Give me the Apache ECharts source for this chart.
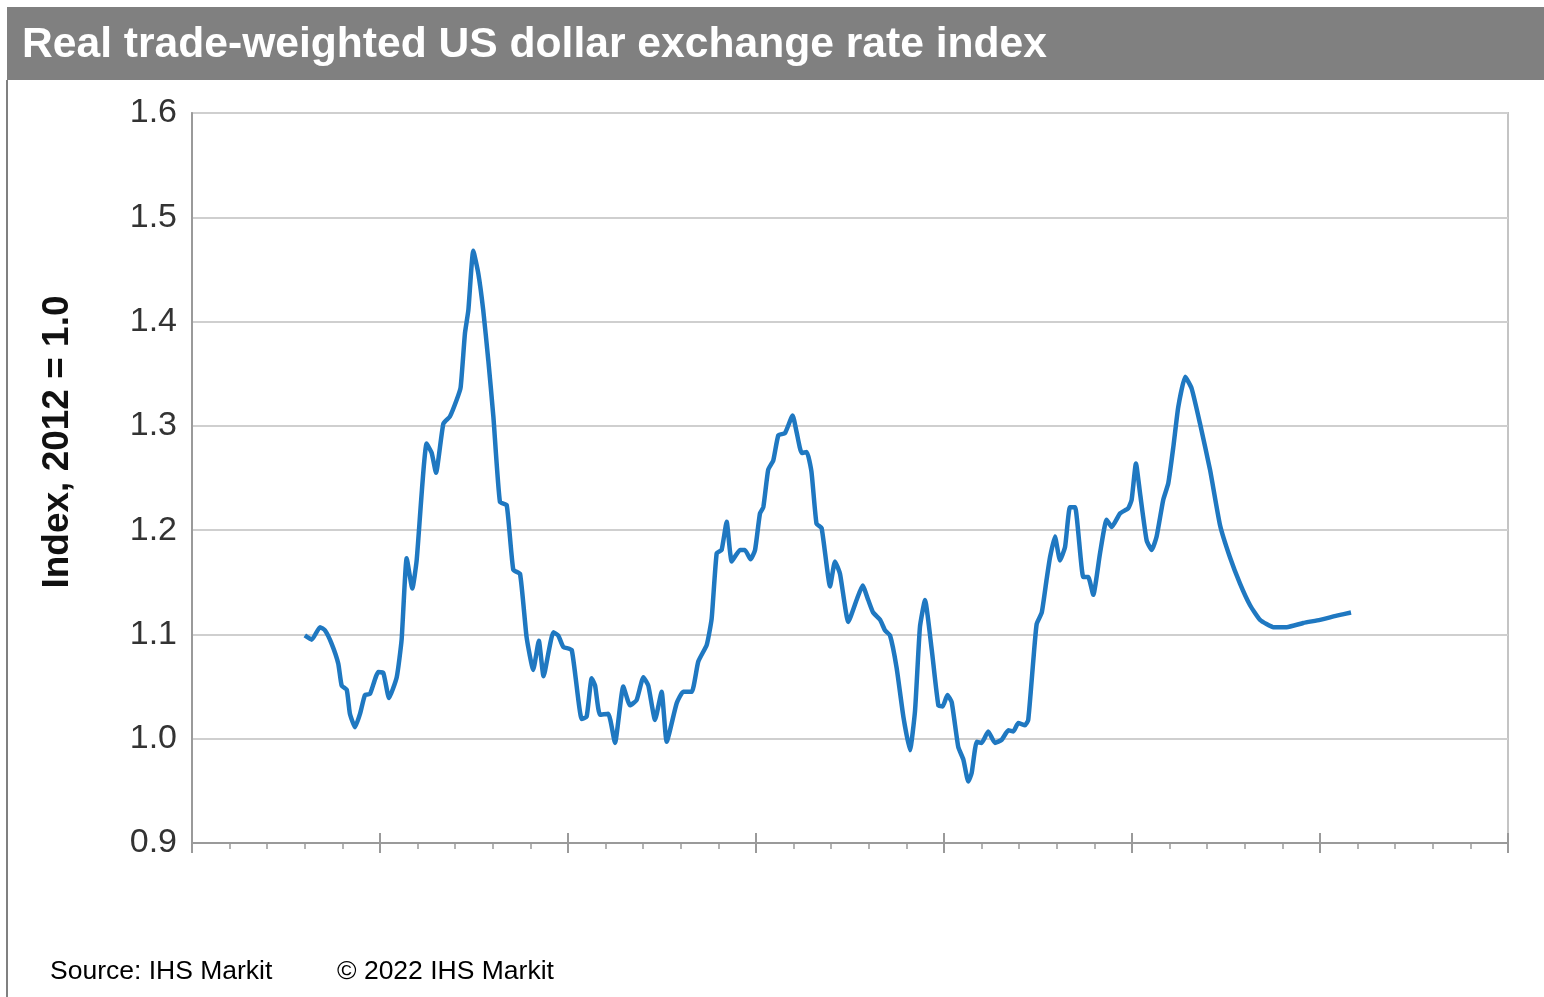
<!DOCTYPE html>
<html>
<head>
<meta charset="utf-8">
<title>Real trade-weighted US dollar exchange rate index</title>
<script src="https://cdn.jsdelivr.net/npm/echarts@6/dist/echarts.min.js"></script>
<style>
  html, body { margin: 0; padding: 0; background: #ffffff; }
  #chart { width: 1544px; height: 997px; }
</style>
</head>
<body>
<div id="chart"></div>
<script>
// Time positions (decimal years) of the index series
const years = [
  1976.0, 1976.37, 1976.81, 1977.07, 1977.43, 1977.78, 1977.96, 1978.23, 1978.4, 1978.67,
  1978.94, 1979.2, 1979.47, 1979.91, 1980.18, 1980.48, 1980.89, 1981.15, 1981.42, 1981.72,
  1981.95, 1982.48, 1982.75, 1982.98, 1983.37, 1983.72, 1984.08, 1984.29, 1984.52, 1984.7,
  1984.96, 1985.23, 1985.49, 1985.76, 1986.03, 1986.38, 1986.74, 1987.09, 1987.45, 1987.8,
  1988.15, 1988.45, 1988.7, 1989.22, 1989.48, 1989.75, 1990.2, 1990.73, 1990.99, 1991.26,
  1991.44, 1991.7, 1992.14, 1992.5, 1992.94, 1993.3, 1993.65, 1994.01, 1994.27, 1994.63,
  1994.98, 1995.25, 1995.78, 1996.13, 1996.58, 1996.93, 1997.38, 1997.64, 1997.91, 1998.17,
  1998.44, 1998.71, 1999.15, 1999.41, 1999.71, 1999.95, 2000.21, 2000.39, 2000.65, 2000.92,
  2001.19, 2001.54, 2001.95, 2002.16, 2002.43, 2002.7, 2002.95, 2003.22, 2003.49, 2003.94,
  2004.2, 2004.47, 2004.91, 2005.35, 2005.67, 2005.97, 2006.23, 2006.6, 2006.86, 2007.13,
  2007.48, 2007.84, 2008.19, 2008.46, 2008.72, 2008.99, 2009.35, 2009.7, 2009.93, 2010.18,
  2010.41, 2010.76, 2011.03, 2011.29, 2011.47, 2011.74, 2012.0, 2012.35, 2012.71, 2013.07,
  2013.42, 2013.69, 2013.95, 2014.31, 2014.48, 2014.75, 2014.93, 2015.2, 2015.46, 2015.64,
  2015.9, 2016.17, 2016.44, 2016.7, 2016.97, 2017.41, 2017.67, 2017.94, 2018.3, 2018.65,
  2018.92, 2019.36, 2019.8, 2019.98, 2020.21, 2020.43, 2020.78, 2021.05, 2021.31, 2021.66,
  2021.93, 2022.2, 2022.46, 2022.83, 2023.17, 2023.62, 2024.15, 2024.68, 2025.21, 2025.74,
  2026.28, 2026.81, 2027.52, 2028.23, 2029.11, 2030.0, 2030.89, 2031.65
];

// Real trade-weighted dollar index, 2012 = 1.0
const indexValues = [
  1.099, 1.095, 1.107, 1.104, 1.091, 1.072, 1.051, 1.047, 1.024, 1.011,
  1.024, 1.042, 1.043, 1.064, 1.063, 1.039, 1.059, 1.095, 1.173, 1.144,
  1.171, 1.283, 1.274, 1.255, 1.302, 1.309, 1.325, 1.337, 1.389, 1.411,
  1.468, 1.446, 1.411, 1.363, 1.309, 1.227, 1.224, 1.162, 1.158, 1.097,
  1.066, 1.094, 1.060, 1.102, 1.099, 1.088, 1.085, 1.019, 1.021, 1.058,
  1.051, 1.023, 1.024, 0.996, 1.050, 1.032, 1.037, 1.059, 1.051, 1.018,
  1.045, 0.997, 1.034, 1.045, 1.045, 1.074, 1.090, 1.115, 1.178, 1.181,
  1.208, 1.170, 1.181, 1.181, 1.172, 1.181, 1.216, 1.222, 1.258, 1.267,
  1.291, 1.293, 1.310, 1.294, 1.274, 1.275, 1.256, 1.206, 1.202, 1.146,
  1.170, 1.158, 1.112, 1.133, 1.147, 1.133, 1.121, 1.114, 1.104, 1.099,
  1.068, 1.021, 0.989, 1.027, 1.107, 1.133, 1.085, 1.032, 1.031, 1.042,
  1.035, 0.992, 0.980, 0.959, 0.967, 0.997, 0.996, 1.007, 0.996, 0.999,
  1.008, 1.007, 1.015, 1.013, 1.018, 1.075, 1.110, 1.121, 1.153, 1.174,
  1.194, 1.171, 1.184, 1.222, 1.222, 1.155, 1.155, 1.138, 1.178, 1.210,
  1.203, 1.216, 1.221, 1.229, 1.264, 1.235, 1.190, 1.181, 1.194, 1.229,
  1.245, 1.280, 1.318, 1.347, 1.336, 1.302, 1.258, 1.205, 1.174, 1.149,
  1.128, 1.114, 1.107, 1.107, 1.111, 1.114, 1.118, 1.121
];

// Axis ranges and tick spacing
const xRange = [1970, 2040];
const xStep = 10;
const yRange = [0.9, 1.6];
const yStep = 0.1;

const titleText = 'Real trade-weighted US dollar exchange rate index';
const yAxisTitle = 'Index, 2012 = 1.0';
const sourceText = 'Source: IHS Markit';
const copyrightText = '\u00A9 2022 IHS Markit';

const seriesData = years.map((y, i) => [y, indexValues[i]]);

const chart = echarts.init(document.getElementById('chart'), null, { renderer: 'canvas' });

const axisGray = '#9a9a9a';
const font = '"Liberation Sans", Arial, Helvetica, sans-serif';

chart.setOption({
  animation: false,
  backgroundColor: '#ffffff',
  grid: {
    left: 192, top: 113, right: 36, bottom: 154,
    show: true, borderColor: '#c4c4c4', borderWidth: 2
  },
  xAxis: [
    {
      type: 'value', min: xRange[0], max: xRange[1], interval: xStep,
      axisLabel: { show: false },
      axisLine: { show: true, lineStyle: { color: axisGray, width: 2 } },
      axisTick: { show: true, length: 10, lineStyle: { color: axisGray, width: 2 } },
      minorTick: { show: true, splitNumber: 5, length: 6, lineStyle: { color: axisGray, width: 1.5 } },
      splitLine: { show: false }
    },
    {
      // inward half of the major ticks
      type: 'value', min: xRange[0], max: xRange[1], interval: xStep,
      position: 'bottom',
      axisLabel: { show: false },
      axisLine: { show: false },
      axisTick: { show: true, inside: true, length: 10, lineStyle: { color: axisGray, width: 2 } },
      splitLine: { show: false }
    }
  ],
  yAxis: {
    type: 'value', min: yRange[0], max: yRange[1], interval: yStep,
    axisLine: { show: true, lineStyle: { color: axisGray, width: 2 } },
    axisTick: { show: false },
    axisLabel: {
      color: '#333333', fontSize: 34, fontFamily: font, margin: 15,
      formatter: v => v.toFixed(1)
    },
    splitLine: { show: true, lineStyle: { color: '#cfcfcf', width: 2 } }
  },
  series: [{
    type: 'line',
    data: seriesData,
    showSymbol: false,
    smooth: 0.15,
    lineStyle: { color: '#1f78c1', width: 4.5 },
    xAxisIndex: 0
  }],
  graphic: [
    {
      type: 'rect', left: 7, top: 7, z: 10,
      shape: { width: 1537, height: 73 },
      style: { fill: '#808080' }
    },
    {
      type: 'text', x: 22, y: 45, z: 11,
      style: {
        text: titleText, fill: '#ffffff', font: 'bold 42.6px ' + font,
        verticalAlign: 'middle'
      }
    },
    {
      type: 'line', z: 10,
      shape: { x1: 7, y1: 80, x2: 7, y2: 997 },
      style: { stroke: '#808080', lineWidth: 2 }
    },
    {
      type: 'text', z: 11,
      x: 58, y: 442, rotation: Math.PI / 2,
      style: {
        text: yAxisTitle, fill: '#111111', font: 'bold 37px ' + font,
        align: 'center', verticalAlign: 'middle'
      }
    },
    {
      type: 'text', x: 50, y: 972, z: 11,
      style: { text: sourceText, fill: '#000000', font: '26.5px ' + font, verticalAlign: 'middle' }
    },
    {
      type: 'text', x: 337, y: 972, z: 11,
      style: { text: copyrightText, fill: '#000000', font: '26.5px ' + font, verticalAlign: 'middle' }
    }
  ]
});
</script>
</body>
</html>
